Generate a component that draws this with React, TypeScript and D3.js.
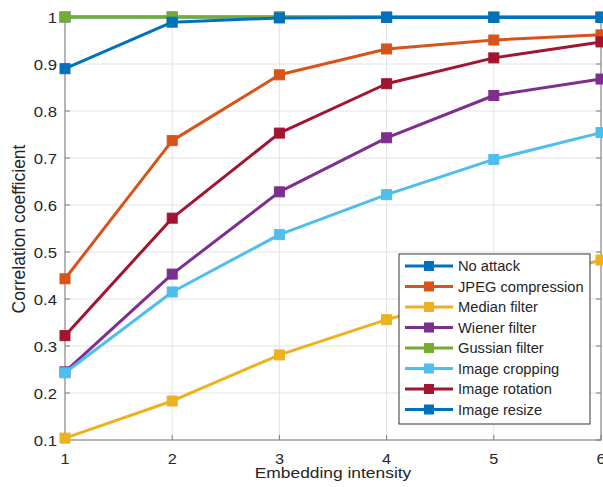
import React from "react";
import * as d3 from "d3";

const xValues = [1, 2, 3, 4, 5, 6];
const seriesNames = [
  "No attack",
  "JPEG compression",
  "Median filter",
  "Wiener filter",
  "Gussian filter",
  "Image cropping",
  "Image rotation",
  "Image resize",
];
const seriesColors = [
  "#0072BD",
  "#D95319",
  "#EDB120",
  "#7E2F8E",
  "#77AC30",
  "#4DBEEE",
  "#A2142F",
  "#0072BD",
];
const noAttack = [1, 1, 1, 1, 1, 1];
const jpeg = [0.443, 0.737, 0.877, 0.932, 0.951, 0.962];
const median = [0.104, 0.183, 0.281, 0.356, 0.42, 0.483];
const wiener = [0.245, 0.453, 0.628, 0.743, 0.833, 0.868];
const gaussian = [1, 1, 1, 1, 1, 1];
const cropping = [0.243, 0.415, 0.537, 0.622, 0.697, 0.754];
const rotation = [0.322, 0.572, 0.753, 0.858, 0.913, 0.947];
const resize = [0.89, 0.989, 0.998, 0.999, 0.999, 0.999];
const seriesValues = [noAttack, jpeg, median, wiener, gaussian, cropping, rotation, resize];
const yTicks = [0.1, 0.2, 0.3, 0.4, 0.5, 0.6, 0.7, 0.8, 0.9, 1];
const xLabel = "Embedding intensity";
const yLabel = "Correlation coefficient";

const W = 603;
const H = 487;
const M = { left: 65, right: 601, top: 17, bottom: 440 };
const FONT = "'Liberation Sans', Arial, Helvetica, sans-serif";

export default function App() {
  const x = d3.scaleLinear().domain([1, 6]).range([M.left, M.right]);
  const y = d3.scaleLinear().domain([0.1, 1]).range([M.bottom, M.top]);
  const line = d3
    .line<number>()
    .x((_, i) => x(xValues[i]))
    .y((v) => y(v));
  const ms = 10;
  const tick = 5;
  const axisColor = "#7a7a7a";
  const textColor = "#262626";

  const legend = { x: 399, y: 254, w: 191, h: 170, row: 20.5, first: 266 };
  const xLabelX = (M.left + M.right) / 2;

  return (
    <svg
      width={W}
      height={H}
      style={{ position: "absolute", left: 0, top: 0, background: "#fff" }}
      fontFamily={FONT}
    >
      <rect x={0} y={0} width={W} height={H} fill="#fff" />
      {/* grid */}
      {xValues.map((v) => (
        <line key={"gx" + v} x1={x(v)} x2={x(v)} y1={M.top} y2={M.bottom} stroke="#e3e3e3" strokeWidth={1} />
      ))}
      {yTicks.map((v) => (
        <line key={"gy" + v} x1={M.left} x2={M.right} y1={y(v)} y2={y(v)} stroke="#e3e3e3" strokeWidth={1} />
      ))}
      {/* box and ticks */}
      <rect x={M.left} y={M.top} width={M.right - M.left} height={M.bottom - M.top} fill="none" stroke={axisColor} strokeWidth={1} />
      {xValues.map((v) => (
        <g key={"tx" + v}>
          <line x1={x(v)} x2={x(v)} y1={M.bottom} y2={M.bottom - tick} stroke={axisColor} />
          <line x1={x(v)} x2={x(v)} y1={M.top} y2={M.top + tick} stroke={axisColor} />
          <text
            transform={`translate(${x(v)}, ${M.bottom + 24}) scale(1.12, 1)`}
            textAnchor="middle"
            fontSize={14.5}
            fill={textColor}
          >
            {v}
          </text>
        </g>
      ))}
      {yTicks.map((v) => (
        <g key={"ty" + v}>
          <line x1={M.left} x2={M.left + tick} y1={y(v)} y2={y(v)} stroke={axisColor} />
          <line x1={M.right} x2={M.right - tick} y1={y(v)} y2={y(v)} stroke={axisColor} />
          <text
            transform={`translate(${M.left - 8}, ${y(v) + 5.5}) scale(1.08, 1)`}
            textAnchor="end"
            fontSize={15.5}
            fill={textColor}
          >
            {d3.format("~g")(v)}
          </text>
        </g>
      ))}
      {/* series */}
      {seriesValues.map((vals, si) => (
        <g key={"s" + si}>
          <path d={line(vals) || ""} fill="none" stroke={seriesColors[si]} strokeWidth={3} strokeLinejoin="round" />
          {vals.map((v, i) => (
            <rect
              key={i}
              x={x(xValues[i]) - ms / 2}
              y={y(v) - ms / 2}
              width={ms}
              height={ms}
              fill={seriesColors[si]}
              stroke={seriesColors[si]}
              strokeWidth={1}
            />
          ))}
        </g>
      ))}
      {/* axis labels */}
      <text
        transform={`translate(${xLabelX}, 478) scale(1.2, 1)`}
        textAnchor="middle"
        fontSize={14.5}
        fill={textColor}
      >
        {xLabel}
      </text>
      <text
        transform={`translate(25, 229) rotate(-90)`}
        textAnchor="middle"
        fontSize={17.5}
        fill={textColor}
      >
        {yLabel}
      </text>
      {/* legend */}
      <rect x={legend.x} y={legend.y} width={legend.w} height={legend.h} fill="#fff" stroke="#333" strokeWidth={1} />
      {seriesNames.map((name, i) => {
        const cy = legend.first + i * legend.row;
        return (
          <g key={"l" + i}>
            <line x1={405} x2={453} y1={cy} y2={cy} stroke={seriesColors[i]} strokeWidth={3} />
            <rect x={429 - ms / 2} y={cy - ms / 2} width={ms} height={ms} fill={seriesColors[i]} />
            <text x={458} y={cy + 5} fontSize={14.7} fill={textColor}>
              {name}
            </text>
          </g>
        );
      })}
    </svg>
  );
}
